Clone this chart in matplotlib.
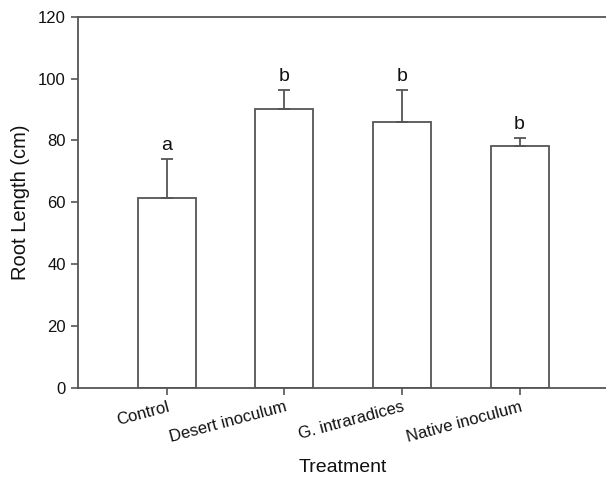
import matplotlib
matplotlib.use("Agg")
import matplotlib.pyplot as plt

categories = ["Control", "Desert inoculum", "G. intraradices", "Native inoculum"]
means = [61.4, 90.3, 85.9, 78.3]
errors = [12.5, 6.1, 10.3, 2.4]
letters = ["a", "b", "b", "b"]

plt.rcParams['font.family'] = ['Liberation Sans', 'DejaVu Sans']
line_c = "#555555"

fig = plt.figure(figsize=(6.06, 4.8), dpi=100)
ax = fig.add_axes([0.1282, 0.1917, 0.876, 0.7735])
x = list(range(len(categories)))
ax.bar(x, means, width=0.493, color="white", edgecolor=line_c, linewidth=1.3, zorder=2)
ax.errorbar(x, means, yerr=[[0]*len(errors), errors], fmt="none", ecolor=line_c,
            elinewidth=1.3, capsize=4.5, capthick=1.3, zorder=3)
for xi, m, e, l in zip(x, means, errors, letters):
    ax.text(xi, m + e + 1.6, l, ha="center", va="bottom", fontsize=14, color="#111111")

ax.set_xlim(-0.757, 3.757)
ax.set_ylim(0, 120)
ax.set_yticks([0, 20, 40, 60, 80, 100, 120])
ax.set_xticks(x)
ax.set_xticklabels(categories, rotation=15, ha="right", rotation_mode="anchor", fontsize=12)
ax.tick_params(axis="both", colors=line_c, labelcolor="#111111", length=5, width=1.2, labelsize=12)
ax.tick_params(axis="x", pad=3)
for s in ax.spines.values():
    s.set_color(line_c)
    s.set_linewidth(1.3)
ax.spines['right'].set_visible(False)
ax.set_ylabel("Root Length (cm)", fontsize=14.5, color="#111111", labelpad=6)
ax.set_xlabel("Treatment", fontsize=14, color="#111111", labelpad=10)
fig.savefig("out.png", dpi=100)
